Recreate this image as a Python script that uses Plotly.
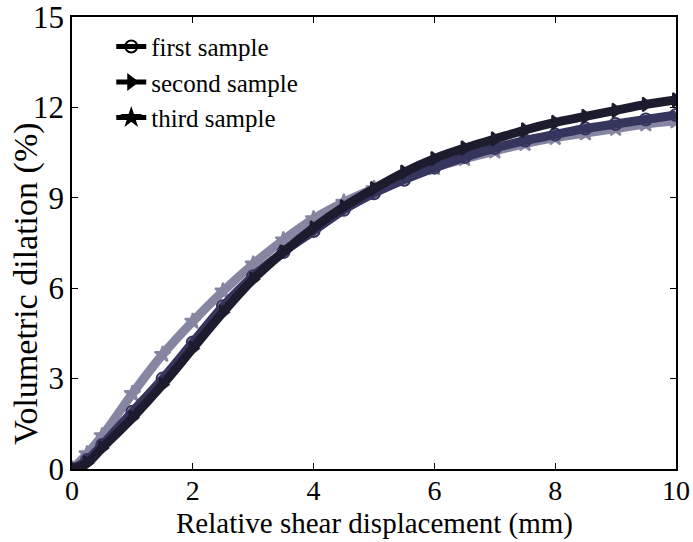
import plotly.graph_objects as go

x_mm = [0, 0.25, 0.5, 1, 1.5, 2, 2.5, 3, 3.5, 4, 4.5, 5, 5.5, 6, 6.5, 7, 7.5, 8, 8.5, 9, 9.5, 10]

first_sample = [0, 0.3, 0.8, 1.9, 3.0, 4.2, 5.4, 6.4, 7.2, 7.9, 8.6, 9.15, 9.6, 10.0, 10.35, 10.65, 10.9, 11.1, 11.3, 11.45, 11.6, 11.75]
second_sample = [0, 0.2, 0.7, 1.7, 2.8, 4.0, 5.2, 6.3, 7.2, 8.0, 8.7, 9.3, 9.85, 10.3, 10.65, 10.95, 11.25, 11.5, 11.7, 11.9, 12.1, 12.25]
third_sample = [0, 0.5, 1.1, 2.5, 3.8, 4.9, 5.9, 6.8, 7.6, 8.3, 8.85, 9.3, 9.7, 10.0, 10.3, 10.55, 10.8, 11.0, 11.15, 11.3, 11.45, 11.55]

names = ["first sample", "second sample", "third sample"]
symbols = ["circle-open", "triangle-right", "star"]
colors = ["#35355e", "#1c1c2e", "#8686a2"]

x_ticks = [0, 2, 4, 6, 8, 10]
y_ticks = [0, 3, 6, 9, 12, 15]

FONT = "Liberation Serif, Times New Roman, serif"

fig = go.Figure()

series = [third_sample, first_sample, second_sample]
order = [2, 0, 1]
for s, i in zip(series, order):
    fig.add_trace(go.Scatter(
        x=x_mm, y=s, mode="lines+markers", showlegend=False,
        line=dict(color=colors[i], width=9, shape="spline"),
        marker=dict(symbol=symbols[i], size=12, color=colors[i],
                    line=dict(color=colors[i], width=2)),
    ))

# legend entries (black, thin)
for i in range(3):
    fig.add_trace(go.Scatter(
        x=[None], y=[None], mode="lines+markers", name=names[i],
        line=dict(color="black", width=1.5),
        marker=dict(symbol=symbols[i], size=8, color="black",
                    line=dict(color="black", width=1.5)),
    ))

axis_common = dict(
    showgrid=False, zeroline=False, showline=True, linecolor="black",
    linewidth=1.5, mirror="ticks", ticks="inside", ticklen=6,
    tickcolor="black", automargin=False, ticklabeloverflow="allow",
)

fig.update_xaxes(range=[0, 10], tickvals=x_ticks, ticktext=[str(v) for v in x_ticks],
                 tickfont=dict(family=FONT, size=28, color="black"),
                 ticklabelstandoff=-4,
                 **axis_common)
fig.update_yaxes(range=[0, 15], tickvals=y_ticks, ticktext=[str(v) for v in y_ticks],
                 tickfont=dict(family=FONT, size=31, color="black"),
                 **axis_common)

fig.add_annotation(
    text="Relative shear displacement (mm)",
    xref="paper", yref="paper", x=0.5, y=-73 / 452,
    xanchor="center", yanchor="bottom", showarrow=False,
    font=dict(family=FONT, size=29, color="black"),
)
fig.add_annotation(
    text="Volumetric dilation (%)", textangle=-90,
    xref="paper", yref="paper", x=-0.076, y=0.41,
    xanchor="center", yanchor="middle", showarrow=False,
    font=dict(family=FONT, size=34, color="black"),
)

fig.update_layout(
    width=693, height=542,
    margin=dict(l=72, r=17, t=17, b=73),
    plot_bgcolor="white", paper_bgcolor="white",
    font=dict(family=FONT, size=29, color="black"),
    legend=dict(x=0.065, y=0.985, xanchor="left", yanchor="top",
                bgcolor="rgba(0,0,0,0)", font=dict(family=FONT, size=25),
                tracegroupgap=0, itemsizing="constant"),
)

fig.write_html("out.html")
